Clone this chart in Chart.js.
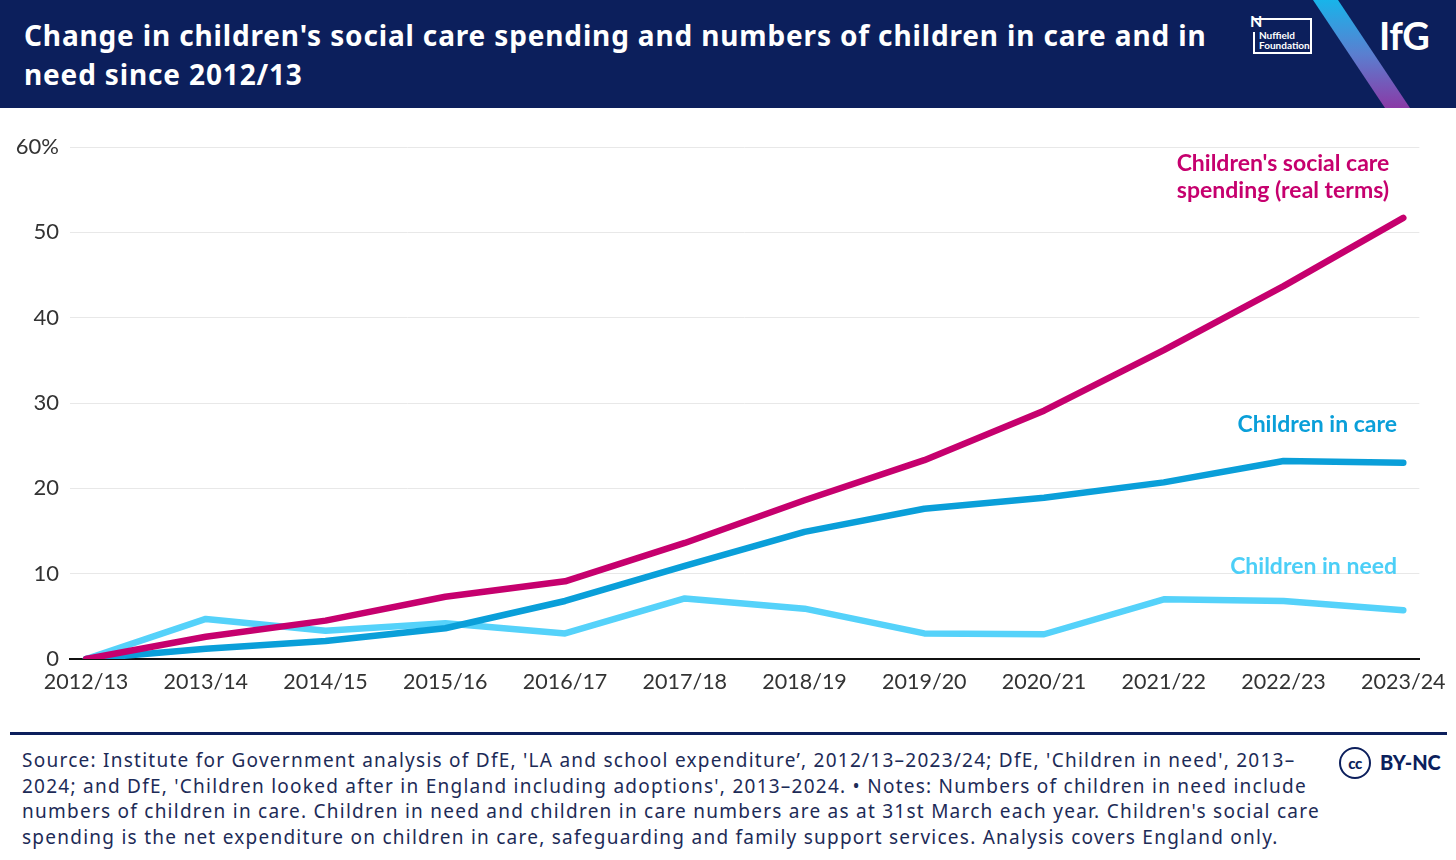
<!DOCTYPE html>
<html>
<head>
<meta charset="utf-8">
<script src="https://cdn.jsdelivr.net/npm/chart.js@4.4.0/dist/chart.umd.min.js"></script>
<style>
  html, body { margin: 0; padding: 0; background: #fff; }
  body { width: 1456px; height: 860px; position: relative; overflow: hidden; font-family: Lato, "Noto Sans", sans-serif; }
  #header { position: absolute; left: 0; top: 0; width: 1456px; height: 108px; background: #0c1f5c; overflow: hidden; }
  #title { position: absolute; left: 24px; top: 16px; width: 1230px; color: #fff; font-family: "Noto Sans", sans-serif; font-weight: 700; font-size: 28px; letter-spacing: 0.85px; line-height: 39px; white-space: nowrap; }
  #stripe { position: absolute; left: 0; top: 0; width: 1456px; height: 108px;
            background: linear-gradient(180deg, #18b4ea 0%, #5a7fd0 50%, #8a3aa6 100%);
            clip-path: polygon(1313px 0, 1338px 0, 1410px 108px, 1385px 108px); }
  #ifg { position: absolute; left: 1379px; top: 12px; color: #fff; font-weight: 700; font-size: 38px; letter-spacing: -0.5px; }
  #nuff { position: absolute; left: 1253px; top: 18px; width: 57px; height: 32px; border: 2px solid #fff; border-left: none; }
  #nuff .n { position: absolute; left: -3px; top: -9px; color: #fff; font-weight: 700; font-size: 16px; }
  #nuff .t { position: absolute; left: 6px; top: 10px; color: #fff; font-weight: 700; font-size: 10px; line-height: 10px; }
  #nuff .lb { position: absolute; left: 0; bottom: -2px; width: 2px; height: 22px; background: #fff; }
  #chartWrap { position: absolute; left: 0; top: 110px; width: 1456px; height: 610px; }
  .ann { position: absolute; font-weight: 700; font-size: 23px; line-height: 27px; white-space: nowrap; }
  #rule { position: absolute; left: 10px; top: 732px; width: 1437px; height: 3px; background: #0c1f5c; }
  #source { position: absolute; left: 22px; top: 748px; color: #1d2b57; font-family: "Noto Sans", sans-serif; font-size: 19px; letter-spacing: 1.25px; line-height: 25.5px; white-space: nowrap; }
  #cc { position: absolute; left: 1339px; top: 747px; width: 28px; height: 28px; border: 2.5px solid #0c1f5c; border-radius: 50%;
        color: #0c1f5c; font-weight: 900; font-size: 15px; line-height: 28px; text-align: center; letter-spacing: -0.5px; }
  #bync { position: absolute; left: 1380px; top: 750px; color: #0c1f5c; font-weight: 900; font-size: 20px; }
</style>
</head>
<body>

<div id="header">
  <div id="title">Change in children's social care spending and numbers of children in care and in<br>need since 2012/13</div>
  <div id="nuff"><span class="n">N</span><span class="lb"></span><span class="t">Nuffield<br>Foundation</span></div>
  <div id="stripe"></div>
  <div id="ifg">IfG</div>
</div>

<div id="chartWrap"><canvas id="chart" width="1456" height="610"></canvas></div>

<div class="ann" style="left:1163px; top:149px; width:240px; text-align:center; color:#c6006e;">Children's social care<br>spending (real terms)</div>
<div class="ann" style="left:1197px; top:410px; width:200px; text-align:right; color:#0a9fd9;">Children in care</div>
<div class="ann" style="left:1197px; top:552px; width:200px; text-align:right; color:#4ccff7;">Children in need</div>

<div id="rule"></div>
<div id="source">Source: Institute for Government analysis of DfE, 'LA and school expenditure’, 2012/13–2023/24; DfE, 'Children in need', 2013–<br>2024; and DfE, 'Children looked after in England including adoptions', 2013–2024. • Notes: Numbers of children in need include<br>numbers of children in care. Children in need and children in care numbers are as at 31st March each year. Children's social care<br>spending is the net expenditure on children in care, safeguarding and family support services. Analysis covers England only.</div>
<div id="cc">cc</div>
<div id="bync">BY-NC</div>

<script>
// categories (financial years)
const years = ['2012/13', '2013/14', '2014/15', '2015/16', '2016/17', '2017/18',
               '2018/19', '2019/20', '2020/21', '2021/22', '2022/23', '2023/24'];

// % change since 2012/13
const spending = [0, 2.6, 4.5, 7.3, 9.1, 13.6, 18.6, 23.3, 29.1, 36.2, 43.7, 51.7];
const inCare   = [0, 1.2, 2.1, 3.6, 6.8, 10.9, 14.9, 17.6, 18.9, 20.7, 23.2, 23.0];
const inNeed   = [0, 4.7, 3.3, 4.2, 3.0, 7.1, 5.9, 3.0, 2.9, 7.0, 6.8, 5.7];

const yTicks = [0, 10, 20, 30, 40, 50, 60];

function toPoints(arr) {
    return arr.map((v, i) => ({ x: i, y: v }));
}

function lineSet(label, data, colour) {
    return {
        label: label,
        data: toPoints(data),
        borderColor: colour,
        backgroundColor: colour,
        borderWidth: 6.5,
        pointRadius: 0,
        pointHoverRadius: 0,
        tension: 0,
        borderCapStyle: 'round',
        borderJoinStyle: 'round'
    };
}

const ctx = document.getElementById('chart').getContext('2d');
new Chart(ctx, {
    type: 'line',
    data: {
        datasets: [
            lineSet("Children's social care spending (real terms)", spending, '#c6006e'),
            lineSet('Children in care', inCare, '#0a9fd9'),
            lineSet('Children in need', inNeed, '#55d2fa')
        ]
    },
    options: {
        responsive: false,
        animation: false,
        layout: { padding: { left: 0, right: 36, top: 37, bottom: 0 } },
        plugins: {
            legend: { display: false },
            tooltip: { enabled: false }
        },
        scales: {
            x: {
                type: 'linear',
                min: -0.134,
                max: years.length - 1 + 0.134,
                afterBuildTicks: function(scale) {
                    scale.ticks = years.map((_, i) => ({ value: i }));
                },
                afterFit: function(scale) {
                    scale.height = 61;
                },
                ticks: {
                    color: '#333333',
                    font: { family: 'Lato', size: 21.5 },
                    padding: 10,
                    maxRotation: 0,
                    autoSkip: false,
                    callback: function(value) {
                        return years[value];
                    }
                },
                grid: { display: false, drawTicks: false },
                border: { display: true, color: '#111111', width: 2 }
            },
            y: {
                min: 0,
                max: 60,
                afterBuildTicks: function(scale) {
                    scale.ticks = yTicks.map(v => ({ value: v }));
                },
                afterFit: function(scale) {
                    scale.width = 70;
                },
                ticks: {
                    color: '#333333',
                    font: { family: 'Lato', size: 22 },
                    padding: 11,
                    callback: function(value) {
                        return value === 60 ? value + '%' : value;
                    }
                },
                grid: { color: '#e8e8e8', lineWidth: 1, drawTicks: false },
                border: { display: false }
            }
        }
    }
});
</script>
</body>
</html>
